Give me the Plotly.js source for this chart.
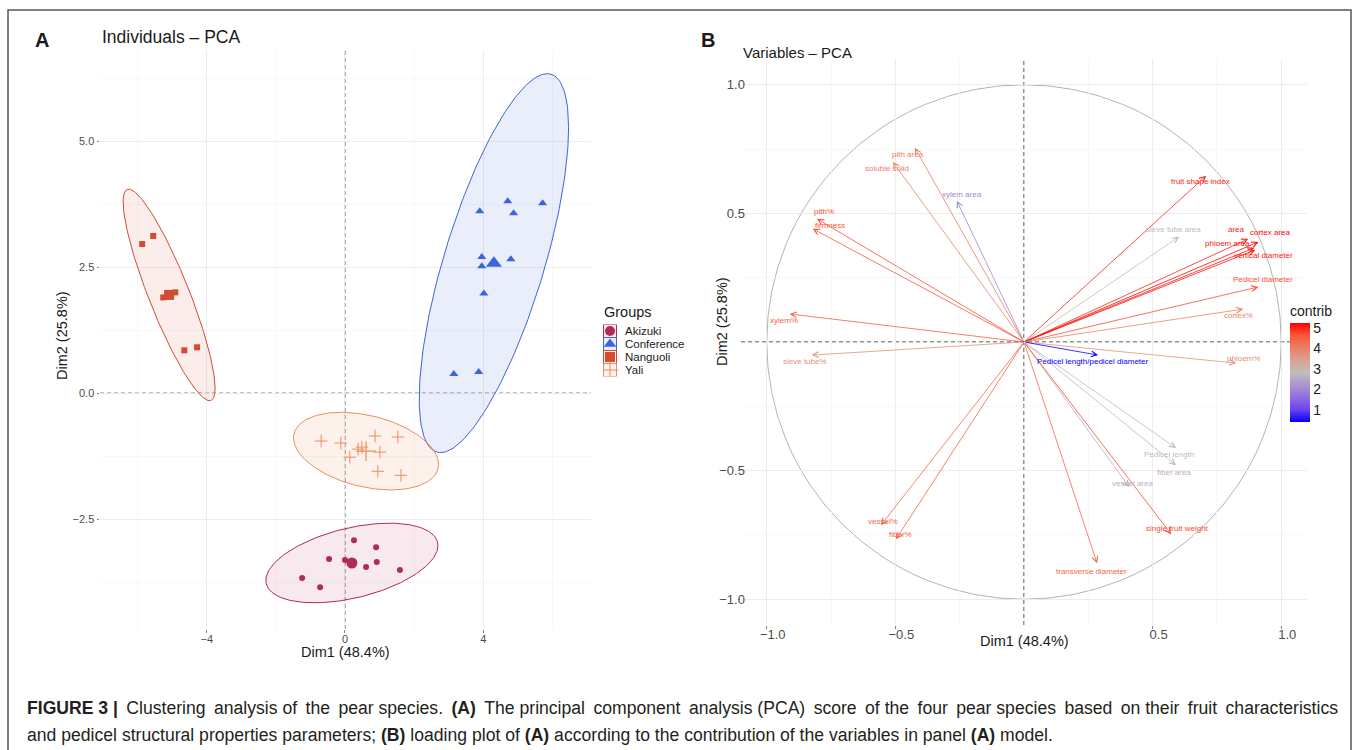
<!DOCTYPE html>
<html><head><meta charset="utf-8">
<script src="https://cdn.plot.ly/plotly-3.0.1.min.js"></script>
<style>html,body{margin:0;padding:0;background:#fff;} #chart{width:1358px;height:750px;}</style>
</head><body><div id="chart"></div>
<script>
// ---------- Panel A : individuals ----------
const groups = ['Akizuki', 'Conference', 'Nanguoli', 'Yali'];
const akizukiDim1 = [0.26, 0.90, -0.46, 0.00, 0.61, 0.92, 1.59, -1.24, -0.72];
const akizukiDim2 = [-2.92, -3.06, -3.29, -3.31, -3.45, -3.35, -3.51, -3.67, -3.85];
const conferenceDim1 = [4.71, 5.72, 3.90, 4.88, 3.96, 4.80, 3.96, 4.02, 3.15, 3.87];
const conferenceDim2 = [3.81, 3.77, 3.61, 3.57, 2.70, 2.66, 2.52, 1.98, 0.38, 0.42];
const nanguoliDim1 = [-5.87, -5.55, -5.26, -5.14, -5.06, -4.91, -4.65, -4.28];
const nanguoliDim2 = [2.96, 3.12, 1.90, 1.92, 1.94, 2.00, 0.85, 0.91];
const yaliDim1 = [-0.69, -0.12, 0.14, 0.38, 0.49, 0.87, 1.01, 1.53, 0.95, 1.62];
const yaliDim2 = [-0.95, -0.99, -1.27, -1.11, -1.07, -0.85, -1.17, -0.87, -1.55, -1.63];
// group means (large symbols)
const centroidDim1 = [0.20, 4.31, -5.09, 0.61];
const centroidDim2 = [-3.37, 2.58, 1.95, -1.15];
// ellipse spread (variance / covariance, Dim units)
const ellipseVarX = [6.20, 4.67, 1.77, 4.41];
const ellipseCovXY = [0.857, 5.81, -2.46, -0.555];
const ellipseVarY = [0.624, 14.14, 4.41, 0.593];

// ---------- Panel B : variables ----------
const variables = ['fruit shape index', 'sieve tube area', 'area', 'cortex area', 'phloem area',
  'vertical diameter', 'Pedicel diameter', 'cortex%', 'phloem%', 'Pedicel length/pedicel diameter',
  'Pedicel length', 'fiber area', 'vessel area', 'single fruit weight', 'transverse diameter',
  'vessel%', 'fiber%', 'sieve tube%', 'xylem%', 'pith%', 'firmness', 'soluble solid', 'pith area', 'xylem area'];
const varDim1 = [0.708, 0.603, 0.872, 0.911, 0.895, 0.899, 0.911, 0.852, 0.825, 0.288,
  0.591, 0.591, 0.409, 0.572, 0.284, -0.556, -0.498, -0.825, -0.911, -0.805, -0.821, -0.510, -0.424, -0.261];
const varDim2 = [0.646, 0.409, 0.401, 0.389, 0.366, 0.358, 0.214, 0.128, -0.082, -0.051,
  -0.412, -0.479, -0.564, -0.747, -0.860, -0.712, -0.767, -0.051, 0.109, 0.479, 0.440, 0.700, 0.755, 0.549];
const contrib = [5.0, 2.9, 5.0, 5.24, 5.1, 5.1, 4.7, 4.0, 3.7, 0.42,
  2.8, 3.1, 2.6, 4.75, 4.4, 4.4, 4.5, 3.7, 4.5, 4.7, 4.65, 4.0, 4.1, 2.0];
const contribTicks = [1, 2, 3, 4, 5];
const bTickVals = [-1, -0.5, 0.5, 1];
const bTickText = ['−1.0', '−0.5', '0.5', '1.0'];

// label jitter (pixels) – text placement only
const labelNudgeX = [-6, -6, -12, 12, -27, 8, 5, -5, 7, -5, -7, -2, 3, 6, -6, 2, 5, -7, -6, 7, 17, -6, -7, 5];
const labelNudgeY = [6, -7, -9, -9, -4, 6, -7, 6, -5, 6, 6, 7, -4, -6, 8, -4, -5, 6, 7, -7, -3, 7, 7, -6];

// ---------- styling ----------
const F = 'Liberation Sans, Arial, sans-serif';
const W = 1358, H = 750;
const px = v => v / W, py = v => 1 - v / H;
const groupColors = ['#B02A5B', '#3C64DC', '#D24B32', '#F08A5B'];
const groupFill = ['rgba(176,42,91,0.10)', 'rgba(60,100,220,0.11)', 'rgba(210,75,50,0.10)', 'rgba(240,138,91,0.12)'];
const groupSymbols = ['circle', 'triangle-up', 'square', 'cross-thin'];
const pointSize = [6, 8, 6, 9];
const centroidSize = [11, 14, 10, 14];
const keySize = [10, 11, 10, 12];
const colorStops = [[0, '#0000FF'], [0.125, '#6C43F0'], [0.25, '#926DE1'], [0.375, '#AC96D0'], [0.5, '#BEBEBE'],
  [0.625, '#DBA090'], [0.75, '#ED7F64'], [0.875, '#F95738'], [1, '#FF0000']];

const groupDim1 = [akizukiDim1, conferenceDim1, nanguoliDim1, yaliDim1];
const groupDim2 = [akizukiDim2, conferenceDim2, nanguoliDim2, yaliDim2];

const traces = [];
// ellipses
groups.forEach((g, i) => {
  const l11 = Math.sqrt(ellipseVarX[i]);
  const l21 = ellipseCovXY[i] / l11;
  const l22 = Math.sqrt(ellipseVarY[i] - l21 * l21);
  const ex = [], ey = [];
  for (let k = 0; k <= 200; k++) {
    const t = 2 * Math.PI * k / 200;
    ex.push(centroidDim1[i] + l11 * Math.cos(t));
    ey.push(centroidDim2[i] + l21 * Math.cos(t) + l22 * Math.sin(t));
  }
  traces.push({type: 'scatter', mode: 'lines', x: ex, y: ey, xaxis: 'x', yaxis: 'y', fill: 'toself',
    fillcolor: groupFill[i], line: {color: groupColors[i], width: 1}, showlegend: false, hoverinfo: 'skip'});
});
function markerFor(i, size, lw) {
  const cross = groupSymbols[i] === 'cross-thin';
  return {symbol: groupSymbols[i], size: size, color: groupColors[i],
    line: cross ? {color: groupColors[i], width: lw} : {width: 0}};
}
// points
groups.forEach((g, i) => {
  traces.push({type: 'scatter', mode: 'markers', name: g, x: groupDim1[i], y: groupDim2[i], xaxis: 'x', yaxis: 'y',
    marker: markerFor(i, pointSize[i], 1), showlegend: false, hoverinfo: 'skip'});
});
// centroids
groups.forEach((g, i) => {
  traces.push({type: 'scatter', mode: 'markers', x: [centroidDim1[i]], y: [centroidDim2[i]], xaxis: 'x', yaxis: 'y',
    marker: markerFor(i, centroidSize[i], 1.2), showlegend: false, hoverinfo: 'skip'});
});
// legend keys (own small axis, 1 unit = 1 px horizontally)
const keyX = groups.map(() => 0), keyY = groups.map((g, i) => i);
traces.push({type: 'scatter', mode: 'markers', x: keyX, y: keyY, xaxis: 'x3', yaxis: 'y3',
  marker: {symbol: 'square', size: 13, color: groupFill, line: {color: groupColors, width: 1}}, showlegend: false, hoverinfo: 'skip'});
groups.forEach((g, i) => {
  traces.push({type: 'scatter', mode: 'markers', x: [keyX[i]], y: [keyY[i]], xaxis: 'x3', yaxis: 'y3',
    marker: markerFor(i, keySize[i], 1), showlegend: false, hoverinfo: 'skip'});
});

// colour helper for contributions
const cmin = Math.min(...contrib), cmax = Math.max(...contrib);
function hex2rgb(h) { return [parseInt(h.substr(1, 2), 16), parseInt(h.substr(3, 2), 16), parseInt(h.substr(5, 2), 16)]; }
function colorFor(v) {
  const t = (v - cmin) / (cmax - cmin);
  for (let k = 1; k < colorStops.length; k++) {
    if (t <= colorStops[k][0] + 1e-9) {
      const a = colorStops[k - 1], b = colorStops[k];
      const f = (t - a[0]) / (b[0] - a[0]);
      const ca = hex2rgb(a[1]), cb = hex2rgb(b[1]);
      return 'rgb(' + ca.map((c, j) => Math.round(c + (cb[j] - c) * f)).join(',') + ')';
    }
  }
  return colorStops[colorStops.length - 1][1];
}

// colourbar carrier
traces.push({type: 'scatter', mode: 'markers', x: varDim1, y: varDim2, xaxis: 'x2', yaxis: 'y2',
  marker: {size: 1, opacity: 0, color: contrib, cmin: cmin, cmax: cmax, colorscale: colorStops, showscale: true,
    colorbar: {x: px(1290), xanchor: 'left', y: py(422), yanchor: 'bottom', len: 120, lenmode: 'pixels',
      thickness: 20, xpad: 0, ypad: 0, outlinewidth: 0, ticks: '', tickvals: contribTicks,
      tickfont: {family: F, size: 14, color: '#1A1A1A'},
      title: {text: 'contrib', side: 'top', font: {family: F, size: 14, color: '#1A1A1A'}}}},
  showlegend: false, hoverinfo: 'skip'});

const annotations = [];
variables.forEach((v, i) => {
  const col = colorFor(contrib[i]);
  annotations.push({xref: 'x2', yref: 'y2', axref: 'x2', ayref: 'y2', x: varDim1[i], y: varDim2[i], ax: 0, ay: 0,
    text: '', showarrow: true, arrowhead: 5, arrowsize: 1.4, arrowwidth: 0.8, arrowcolor: col, standoff: 0, startstandoff: 0});
});
variables.forEach((v, i) => {
  const col = colorFor(contrib[i]);
  annotations.push({xref: 'x2', yref: 'y2', x: varDim1[i], y: varDim2[i], xshift: labelNudgeX[i], yshift: -labelNudgeY[i],
    text: v, showarrow: false, xanchor: 'center', yanchor: 'middle', font: {family: F, size: 8, color: col}});
});
// legend labels
groups.forEach((g, i) => {
  annotations.push({xref: 'x3', yref: 'y3', x: 13, y: keyY[i], text: g, showarrow: false, xanchor: 'left', yanchor: 'middle',
    font: {family: F, size: 11.5, color: '#1A1A1A'}});
});

function txt(text, x, y, size, opts) {
  return Object.assign({xref: 'paper', yref: 'paper', x: px(x), y: py(y), text: text, showarrow: false,
    xanchor: 'center', yanchor: 'middle', font: {family: F, size: size, color: '#1A1A1A'}}, opts || {});
}
const TS = '\u2009';
annotations.push(txt('<b>A</b>', 42, 40, 20));
annotations.push(txt('Individuals – PCA', 100, 37, 17.5, {xanchor: 'left'}));
annotations.push(txt('<b>B</b>', 708, 40, 20));
annotations.push(txt('Variables – PCA', 741, 52, 15, {xanchor: 'left'}));
annotations.push(txt('Groups', 602, 312, 14.5, {xanchor: 'left'}));
annotations.push(txt('Dim1 (48.4%)', 345, 652, 14.5));
annotations.push(txt('Dim2 (25.8%)', 62, 336, 14.5, {textangle: -90}));
annotations.push(txt('Dim1 (48.4%)', 1024, 641, 14.5));
annotations.push(txt('Dim2 (25.8%)', 722, 322, 14.5, {textangle: -90}));
const captionLine1 = ['<b>FIGURE 3 |</b>', 'Clustering', 'analysis', 'of', 'the', 'pear', 'species.', '<b>(A)</b>', 'The',
  'principal', 'component', 'analysis', '(PCA)', 'score', 'of', 'the', 'four', 'pear', 'species', 'based', 'on',
  'their', 'fruit', 'characteristics'];
// justified first line: a thin space is added to most word gaps
const line1 = captionLine1.map((w, k) => (k === 0 ? '' : (k % 3 === 0 ? ' ' : ' ' + TS)) + w).join('');
annotations.push(txt(line1, 25, 708, 17.6, {xanchor: 'left', font: {family: F, size: 17.6, color: '#231F20'}}));
annotations.push(txt('and pedicel structural properties parameters; <b>(B)</b> loading plot of <b>(A)</b> according to the contribution of the variables in panel <b>(A)</b> model.',
  25, 735, 17.6, {xanchor: 'left', font: {family: F, size: 17.6, color: '#231F20'}}));

const dashA = {color: '#555555', width: 1, dash: '4px,3px'};
const dashB = {color: '#222222', width: 1, dash: '4px,3px'};
const shapes = [
  {type: 'rect', xref: 'paper', yref: 'paper', x0: px(8), x1: px(1351), y0: -0.05, y1: py(10), line: {color: '#555555', width: 1.5}},
  {type: 'line', xref: 'x', yref: 'y domain', x0: 0, x1: 0, y0: 0, y1: 1, line: dashA, layer: 'below'},
  {type: 'line', xref: 'x domain', yref: 'y', x0: 0, x1: 1, y0: 0, y1: 0, line: dashA, layer: 'below'},
  {type: 'circle', xref: 'x2', yref: 'y2', x0: -1, x1: 1, y0: -1, y1: 1, line: {color: '#AAAAAA', width: 0.9}, layer: 'below'},
  {type: 'line', xref: 'x2', yref: 'y2 domain', x0: 0, x1: 0, y0: 0, y1: 1, line: dashB, layer: 'below'},
  {type: 'line', xref: 'x2 domain', yref: 'y2', x0: 0, x1: 1, y0: 0, y1: 0, line: dashB, layer: 'below'}
];

const gridMajor = '#EBEBEB', gridMinor = '#F3F3F3';
const axisA = {showgrid: true, gridcolor: gridMajor, gridwidth: 0.9, zeroline: false, showline: false,
  ticks: 'outside', ticklen: 2.5, tickwidth: 0.7, tickcolor: '#4D4D4D',
  tickfont: {family: F, size: 11, color: '#4D4D4D'}, fixedrange: true};
const axisB = Object.assign({}, axisA, {tickfont: {family: F, size: 13, color: '#4D4D4D'}});

const layout = {
  width: W, height: H, autosize: false, margin: {l: 0, r: 0, t: 0, b: 0},
  paper_bgcolor: '#FFFFFF', plot_bgcolor: '#FFFFFF', hovermode: false,
  font: {family: F}, showlegend: false,
  xaxis: Object.assign({}, axisA, {domain: [px(100), px(591)], range: [-7.09, 7.12], tick0: 0, dtick: 4,
    ticklabelstandoff: -3,
    minor: {tick0: 0, dtick: 2, showgrid: true, gridcolor: gridMinor, gridwidth: 0.6}}),
  yaxis: Object.assign({}, axisA, {domain: [py(629), py(50)], range: [-4.68, 6.81], tick0: 0, dtick: 2.5, tickformat: '.1f',
    minor: {tick0: 0, dtick: 1.25, showgrid: true, gridcolor: gridMinor, gridwidth: 0.6}}),
  xaxis2: Object.assign({}, axisB, {domain: [px(741), px(1307)], range: [-1.1, 1.1], anchor: 'y2',
    tickmode: 'array', tickvals: bTickVals, ticktext: bTickText, ticklabelshift: 6, ticklabelstandoff: -5,
    minor: {tick0: 0, dtick: 0.25, showgrid: true, gridcolor: gridMinor, gridwidth: 0.6}}),
  yaxis2: Object.assign({}, axisB, {domain: [py(625), py(59)], range: [-1.1, 1.1], anchor: 'x2',
    tickmode: 'array', tickvals: bTickVals, ticktext: bTickText, ticklabelstandoff: -10,
    minor: {tick0: 0, dtick: 0.25, showgrid: true, gridcolor: gridMinor, gridwidth: 0.6}}),
  xaxis3: {domain: [px(603), px(703)], range: [-7, 93], visible: false, fixedrange: true, anchor: 'y3'},
  yaxis3: {domain: [py(376.5), py(324.5)], range: [3.5, -0.5], visible: false, fixedrange: true, anchor: 'x3'},
  annotations: annotations,
  shapes: shapes
};

Plotly.newPlot('chart', traces, layout, {staticPlot: true, displayModeBar: false});
</script>
</body></html>
